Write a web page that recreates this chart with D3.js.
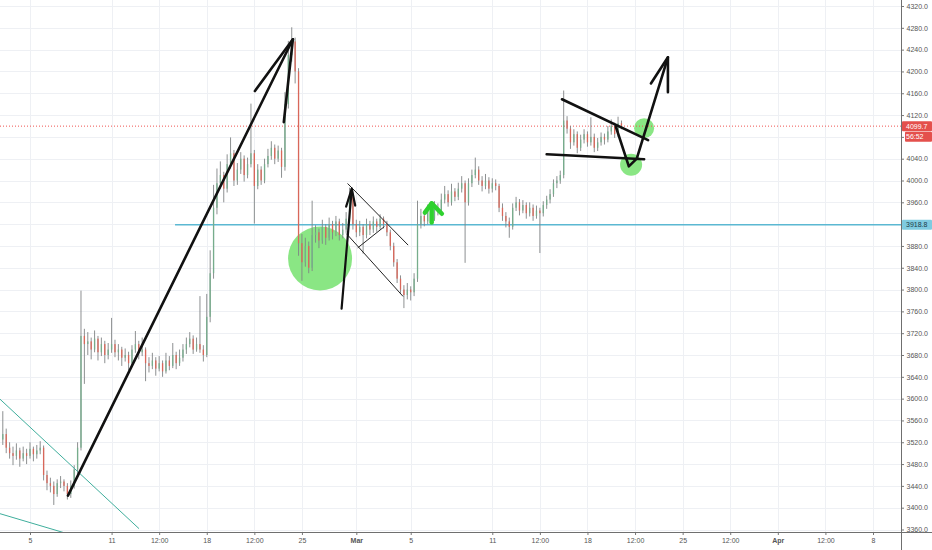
<!DOCTYPE html>
<html>
<head>
<meta charset="utf-8">
<script src="https://cdn.jsdelivr.net/npm/d3@7"></script>
<style>
  body { margin: 0; background: #fff; }
  svg { display: block; font-family: "Liberation Sans", Arial, sans-serif; }
</style>
</head>
<body>
<svg id="chart"></svg>
<script>
const width = 932, height = 550;
const plotRight = 901, plotBottom = 532;

// 6h candles, first one opens Feb 3 00:00 UTC
const firstCandle = "2019-02-03T00:00Z";
const candleHours = 6;
// [open, high, low, close]
const candles = [
  [3525,3577,3515,3535],[3535,3545,3500,3510],[3510,3520,3490,3500],[3500,3512,3478,3495],
  [3495,3518,3488,3505],[3505,3510,3475,3490],[3490,3512,3485,3500],[3500,3508,3480,3495],
  [3495,3520,3490,3508],[3508,3512,3485,3498],[3498,3515,3490,3505],[3505,3522,3498,3510],
  [3510,3514,3450,3460],[3460,3468,3432,3445],[3445,3455,3428,3440],[3440,3448,3405,3425],
  [3425,3452,3420,3445],[3445,3458,3436,3448],[3448,3452,3430,3440],[3440,3445,3415,3425],
  [3425,3450,3418,3440],[3440,3478,3435,3470],[3470,3520,3462,3510],[3510,3798,3505,3715],
  [3715,3728,3627,3700],[3700,3722,3680,3705],[3705,3712,3672,3690],[3690,3725,3685,3710],
  [3710,3715,3670,3685],[3685,3712,3678,3700],[3700,3706,3665,3680],[3680,3702,3672,3690],
  [3690,3748,3684,3700],[3700,3708,3676,3685],[3685,3700,3670,3690],[3690,3695,3660,3675],
  [3675,3692,3668,3680],[3680,3686,3652,3665],[3665,3698,3660,3690],[3690,3724,3684,3700],
  [3700,3706,3672,3685],[3685,3712,3678,3690],[3690,3694,3632,3665],[3665,3676,3648,3660],
  [3660,3684,3654,3670],[3670,3676,3642,3655],[3655,3678,3650,3665],[3665,3670,3640,3650],
  [3650,3684,3646,3670],[3670,3678,3652,3660],[3660,3702,3656,3680],[3680,3686,3654,3665],
  [3665,3690,3660,3675],[3675,3700,3668,3690],[3690,3712,3682,3700],[3700,3722,3694,3710],
  [3710,3716,3682,3690],[3690,3712,3686,3700],[3700,3788,3684,3690],[3690,3698,3668,3680],
  [3680,3792,3676,3750],[3750,3872,3740,3830],[3830,3992,3820,3950],[3950,4022,3938,3995],
  [3995,4035,3985,4010],[4010,4016,3960,3985],[3985,4048,3978,4030],[4030,4079,4022,4050],
  [4050,4056,3990,4000],[4000,4032,3992,4020],[4020,4052,4012,4040],[4040,4046,3998,4010],
  [4010,4042,4004,4030],[4030,4141,4024,4050],[4050,4056,3921,3990],[3990,4030,3984,4020],
  [4020,4026,3992,4000],[4000,4040,3995,4030],[4030,4058,4024,4045],[4045,4072,4038,4060],
  [4060,4066,4030,4040],[4040,4064,4034,4055],[4055,4060,4005,4025],[4025,4162,4018,4140],
  [4140,4256,4132,4230],[4230,4281,4218,4255],[4255,4262,4178,4200],[4200,4206,3862,3885],
  [3885,3902,3816,3850],[3850,3895,3842,3880],[3880,3888,3830,3840],[3840,3963,3834,3900],
  [3900,3918,3886,3905],[3905,3912,3876,3890],[3890,3928,3884,3915],[3915,3920,3882,3895],
  [3895,3932,3890,3920],[3920,3926,3892,3905],[3905,3935,3898,3925],[3925,3930,3890,3900],
  [3900,3922,3894,3910],[3910,3942,3904,3930],[3930,3987,3924,3970],[3970,3976,3910,3920],
  [3920,3928,3896,3905],[3905,3926,3898,3915],[3915,3920,3866,3900],[3900,3930,3894,3920],
  [3920,3926,3900,3910],[3910,3934,3904,3925],[3925,3930,3906,3915],[3915,3938,3910,3930],
  [3930,3934,3912,3920],[3920,3926,3898,3905],[3905,3910,3872,3880],[3880,3886,3842,3850],
  [3850,3856,3812,3820],[3820,3826,3792,3800],[3800,3808,3766,3790],[3790,3812,3782,3800],
  [3800,3806,3780,3795],[3795,3830,3788,3820],[3820,3963,3814,3920],[3920,3948,3912,3935],
  [3935,3940,3916,3925],[3925,3956,3920,3945],[3945,3950,3922,3930],[3930,3962,3926,3950],
  [3950,3958,3936,3945],[3945,3976,3940,3965],[3965,3990,3958,3975],[3975,3982,3952,3960],
  [3960,3994,3954,3980],[3980,3986,3962,3970],[3970,3996,3964,3985],[3985,4008,3978,3995],
  [3995,4000,3849,3960],[3960,4004,3954,3995],[3995,4020,3988,4010],[4010,4042,4004,4020],
  [4020,4026,3992,4000],[4000,4008,3980,3990],[3990,4012,3984,4000],[4000,4006,3976,3985],
  [3985,4004,3978,3995],[3995,4002,3982,3990],[3990,3994,3942,3950],[3950,3958,3926,3935],
  [3935,3942,3914,3925],[3925,3932,3895,3915],[3915,3958,3910,3950],[3950,3970,3944,3960],
  [3960,3966,3936,3945],[3945,3964,3940,3955],[3955,3960,3930,3940],[3940,3960,3934,3950],
  [3950,3956,3926,3935],[3935,3954,3930,3945],[3945,3950,3867,3940],[3940,3962,3934,3955],
  [3955,3972,3948,3965],[3965,3984,3958,3975],[3975,4002,3970,3995],[3995,4008,3986,4000],
  [4000,4018,3994,4010],[4010,4165,4004,4110],[4110,4118,4086,4095],[4095,4100,4058,4070],
  [4070,4094,4064,4085],[4085,4090,4050,4060],[4060,4084,4054,4075],[4075,4094,4068,4085],
  [4085,4090,4062,4070],[4070,4116,4064,4080],[4080,4086,4052,4060],[4060,4078,4054,4070],
  [4070,4088,4064,4080],[4080,4086,4066,4075],[4075,4100,4070,4090],[4090,4112,4084,4100],
  [4100,4106,4078,4085],[4085,4117,4080,4105],[4105,4110,4094,4099.7]
];

const lastPrice = 4099.7;
const countdown = "56:52";
const supportPrice = 3918.8;
const supportStart = "2019-02-15T16:00Z";

const yTicks = d3.range(3360, 4321, 40);
// labels hidden behind the price tags on the scale
const yHiddenLabels = [4080, 3920];
const xTicks = ["2019-02-05","2019-02-11","2019-02-14T12:00","2019-02-18","2019-02-21T12:00",
  "2019-02-25","2019-03-01","2019-03-05","2019-03-11","2019-03-14T12:00","2019-03-18",
  "2019-03-21T12:00","2019-03-25","2019-03-28T12:00","2019-04-01","2019-04-04T12:00","2019-04-08"];
const xTickLabels = ["5","11","12:00","18","12:00","25","Mar","5","11","12:00","18","12:00",
  "25","12:00","Apr","12:00","8"];

// hand-drawn annotations, as [time, price] points
const thickLines = [
  [["2019-02-07T19:00",3422],["2019-02-24T08:00",4259]],
  [["2019-02-21T13:00",4164],["2019-02-24T08:00",4259],["2019-02-23T16:00",4107]],
  [["2019-03-15T00:00",4048],["2019-03-22T04:00",4039]],
  [["2019-03-16T03:00",4149],["2019-03-22T11:00",4074]],
  [["2019-03-20T02:00",4099],["2019-03-21T01:00",4026],["2019-03-21T15:00",4040],["2019-03-23T22:00",4226]],
  [["2019-03-22T16:00",4178],["2019-03-23T22:00",4226],["2019-03-23T22:00",4162]]
];
const mediumLines = [
  [["2019-02-27T22:00",3765],["2019-02-28T16:00",3985]],
  [["2019-02-28T06:00",3952],["2019-02-28T16:00",3985],["2019-02-28T22:00",3954]]
];
const thinLines = [
  [["2019-02-28T09:00",3994],["2019-03-04T19:00",3882]],
  [["2019-02-28T07:00",3902],["2019-03-04T10:00",3788]],
  [["2019-03-01T03:00",3877],["2019-03-03T01:00",3915]]
];
const tealLines = [
  [["2019-02-02T19:00",3599],["2019-02-13T00:00",3362]],
  [["2019-02-02T19:00",3389],["2019-02-07T19:00",3352]]
];
const circleCenters = [["2019-02-26T08:00",3857],["2019-03-22T04:00",4096],["2019-03-21T05:00",4029]];
const greenMark = [
  [["2019-03-06T01:00",3941],["2019-03-06T13:00",3958],["2019-03-07T07:00",3939]],
  [["2019-03-06T13:00",3958],["2019-03-06T13:00",3923]]
];

const parseT = s => d3.isoParse(s.length <= 10 ? s + "T00:00Z" : (s.endsWith("Z") ? s : s + "Z"));

const x = d3.scaleUtc()
  .domain([parseT("2019-02-05"), parseT("2019-04-08")])
  .range([30, 873]);
const y = d3.scaleLinear().domain([3360, 4320]).range([529.5, 6]);

const t0 = parseT(firstCandle).getTime();
const candleTime = i => new Date(t0 + i * candleHours * 3600e3);

const svg = d3.select("#chart")
  .attr("width", width)
  .attr("height", height)
  .attr("viewBox", [0, 0, width, height]);

svg.append("defs").append("clipPath").attr("id", "clip")
  .append("rect").attr("width", plotRight).attr("height", plotBottom);

// grid
const grid = svg.append("g").attr("stroke", "#eef0f4").attr("stroke-width", 1);
grid.selectAll(".gy").data(yTicks).join("line")
  .attr("x1", 0).attr("x2", plotRight)
  .attr("y1", d => Math.round(y(d)) + 0.5).attr("y2", d => Math.round(y(d)) + 0.5);
grid.selectAll(".gx").data(xTicks).join("line")
  .attr("y1", 0).attr("y2", plotBottom)
  .attr("x1", d => Math.round(x(parseT(d))) + 0.5).attr("x2", d => Math.round(x(parseT(d))) + 0.5);

const plot = svg.append("g").attr("clip-path", "url(#clip)");

// green circles sit under the candles
const circleRadii = [32, 10, 11];
plot.selectAll(".zone").data(circleCenters).join("circle")
  .attr("cx", d => x(parseT(d[0])))
  .attr("cy", d => y(d[1]))
  .attr("r", (d, i) => circleRadii[i])
  .attr("fill", "#8ae684");

// horizontal levels
plot.append("line")
  .attr("x1", 0).attr("x2", plotRight)
  .attr("y1", y(lastPrice)).attr("y2", y(lastPrice))
  .attr("stroke", "#ef5350").attr("stroke-width", 1).attr("stroke-dasharray", "1,2");
plot.append("line")
  .attr("x1", x(parseT(supportStart))).attr("x2", plotRight)
  .attr("y1", y(supportPrice)).attr("y2", y(supportPrice))
  .attr("stroke", "#5bb8d2").attr("stroke-width", 1.5);

// candles
const upColor = "#76ad8c", downColor = "#d9675a";
const bodyW = 1.3;
const cg = plot.append("g");
cg.selectAll(".wick").data(candles).join("line")
  .attr("x1", (d, i) => x(candleTime(i))).attr("x2", (d, i) => x(candleTime(i)))
  .attr("y1", d => y(d[1])).attr("y2", d => y(d[2]))
  .attr("stroke", "#808385")
  .attr("stroke-width", 0.9);
cg.selectAll(".body").data(candles).join("rect")
  .attr("x", (d, i) => x(candleTime(i)) - bodyW / 2)
  .attr("width", bodyW)
  .attr("y", d => y(Math.max(d[0], d[3])))
  .attr("height", d => Math.max(0.8, Math.abs(y(d[0]) - y(d[3]))))
  .attr("fill", d => d[3] >= d[0] ? upColor : downColor);

// drawings
const line = d3.line().x(d => x(parseT(d[0]))).y(d => y(d[1]));
function drawLines(data, color, w) {
  plot.append("g").selectAll("path").data(data).join("path")
    .attr("d", line)
    .attr("fill", "none")
    .attr("stroke", color)
    .attr("stroke-width", w)
    .attr("stroke-linecap", "round")
    .attr("stroke-linejoin", "round");
}
drawLines(tealLines, "#3fae9c", 1);
drawLines(thinLines, "#222", 1);
drawLines(mediumLines, "#111", 2.2);
drawLines(thickLines, "#111", 2.6);
drawLines(greenMark, "#2fd12f", 4.5);

// axes
const yAxis = svg.append("g")
  .attr("transform", `translate(${plotRight},0)`)
  .call(d3.axisRight(y).tickValues(yTicks)
    .tickFormat(d => yHiddenLabels.includes(d) ? "" : d.toFixed(1))
    .tickSize(3).tickPadding(2.5));
yAxis.select(".domain").remove();
yAxis.selectAll("line").attr("stroke", "#777");
yAxis.selectAll("text").attr("fill", "#555").style("font-size", "7px");

const xAxis = svg.append("g")
  .attr("transform", `translate(0,${plotBottom})`)
  .call(d3.axisBottom(x).tickValues(xTicks.map(parseT)).tickFormat((d, i) => xTickLabels[i]).tickSize(3).tickPadding(3.5));
xAxis.select(".domain").remove();
xAxis.selectAll("line").attr("stroke", "#777");
xAxis.selectAll("text").attr("fill", "#555").style("font-size", "7px")
  .style("font-weight", (d, i) => /^[A-Z]/.test(xTickLabels[i]) ? "bold" : "normal");

svg.append("line").attr("x1", 0).attr("x2", width).attr("y1", plotBottom + 0.5).attr("y2", plotBottom + 0.5)
  .attr("stroke", "#6f6f6f").attr("stroke-width", 1);
svg.append("line").attr("x1", plotRight + 0.5).attr("x2", plotRight + 0.5).attr("y1", 0).attr("y2", height)
  .attr("stroke", "#6f6f6f").attr("stroke-width", 1);

// price tags on the scale
function tag(price, dy, label, fill, color, inset) {
  const yy = y(price) + dy;
  svg.append("rect").attr("x", plotRight + 1 + inset).attr("y", yy - 5).attr("width", width - plotRight - 1 - inset).attr("height", 10)
    .attr("rx", 1).attr("fill", fill);
  svg.append("text").attr("x", plotRight + 5).attr("y", yy).attr("dy", "0.35em")
    .attr("fill", color).style("font-size", "7px").text(label);
}
tag(lastPrice, 0, lastPrice.toFixed(1), "#e4504c", "#fff", 0);
tag(lastPrice, 10.5, countdown, "#e4504c", "#fff", 3);
tag(supportPrice, 0, supportPrice.toFixed(1), "#7fcbe0", "#1d3b48", 0);
</script>
</body>
</html>
